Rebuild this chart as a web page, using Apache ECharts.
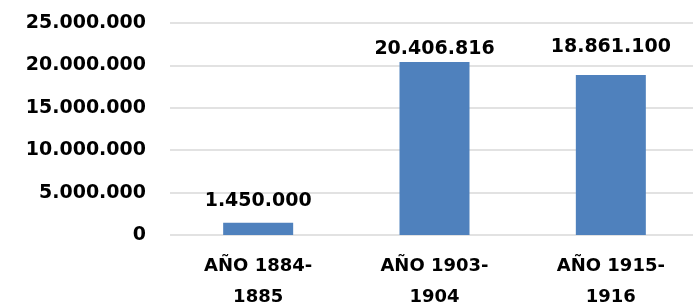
<!DOCTYPE html>
<html>
<head>
<meta charset="utf-8">
<script src="https://cdn.jsdelivr.net/npm/echarts@6/dist/echarts.min.js"></script>
<style>
  html, body { margin: 0; padding: 0; background: #fff; }
  #main { width: 693px; height: 307px; }
</style>
</head>
<body>
<div id="main"></div>
<script>
  // data
  const categories = ['AÑO 1884-1885', 'AÑO 1903-1904', 'AÑO 1915-1916'];
  const values = [1450000, 20406816, 18861100];

  // the labels in the original were nudged by hand, so gaps differ per bar
  const labelGap = [12, 3, 18];

  // 20406816 -> 20.406.816
  function fmt(v) {
    return String(v).replace(/\B(?=(\d{3})+(?!\d))/g, '.');
  }

  let chart = echarts.init(document.getElementById('main'));
  let option = {
    animation: false,
    textStyle: { fontFamily: 'DejaVu Sans' },
    grid: {
      left: 170, width: 529, top: 23, height: 212,
      containLabel: false,
      outerBoundsMode: 'none'
    },
    xAxis: {
      type: 'category',
      data: categories,
      axisLine: { show: false },
      axisTick: { show: false },
      axisLabel: {
        interval: 0,
        margin: 16,
        color: '#000',
        fontSize: 18,
        fontWeight: 'bold',
        lineHeight: 31,
        formatter: function (v) { return v.replace('-', '-\n'); }
      }
    },
    yAxis: {
      type: 'value',
      min: 0,
      max: 25000000,
      interval: 5000000,
      axisLine: { show: false },
      axisTick: { show: false },
      splitLine: { lineStyle: { color: '#d9d9d9', width: 1.5 } },
      axisLabel: {
        margin: 24,
        color: '#000',
        fontSize: 19,
        fontWeight: 'bold',
        formatter: fmt
      }
    },
    series: [{
      type: 'bar',
      data: values.map((v, i) => ({ value: v, label: { distance: labelGap[i] } })),
      barWidth: 70,
      itemStyle: { color: '#4f81bd' },
      label: {
        show: true,
        position: 'top',
        color: '#000',
        fontSize: 19,
        fontWeight: 'bold',
        formatter: function (p) { return fmt(p.value); }
      }
    }]
  };
  chart.setOption(option);
</script>
</body>
</html>
